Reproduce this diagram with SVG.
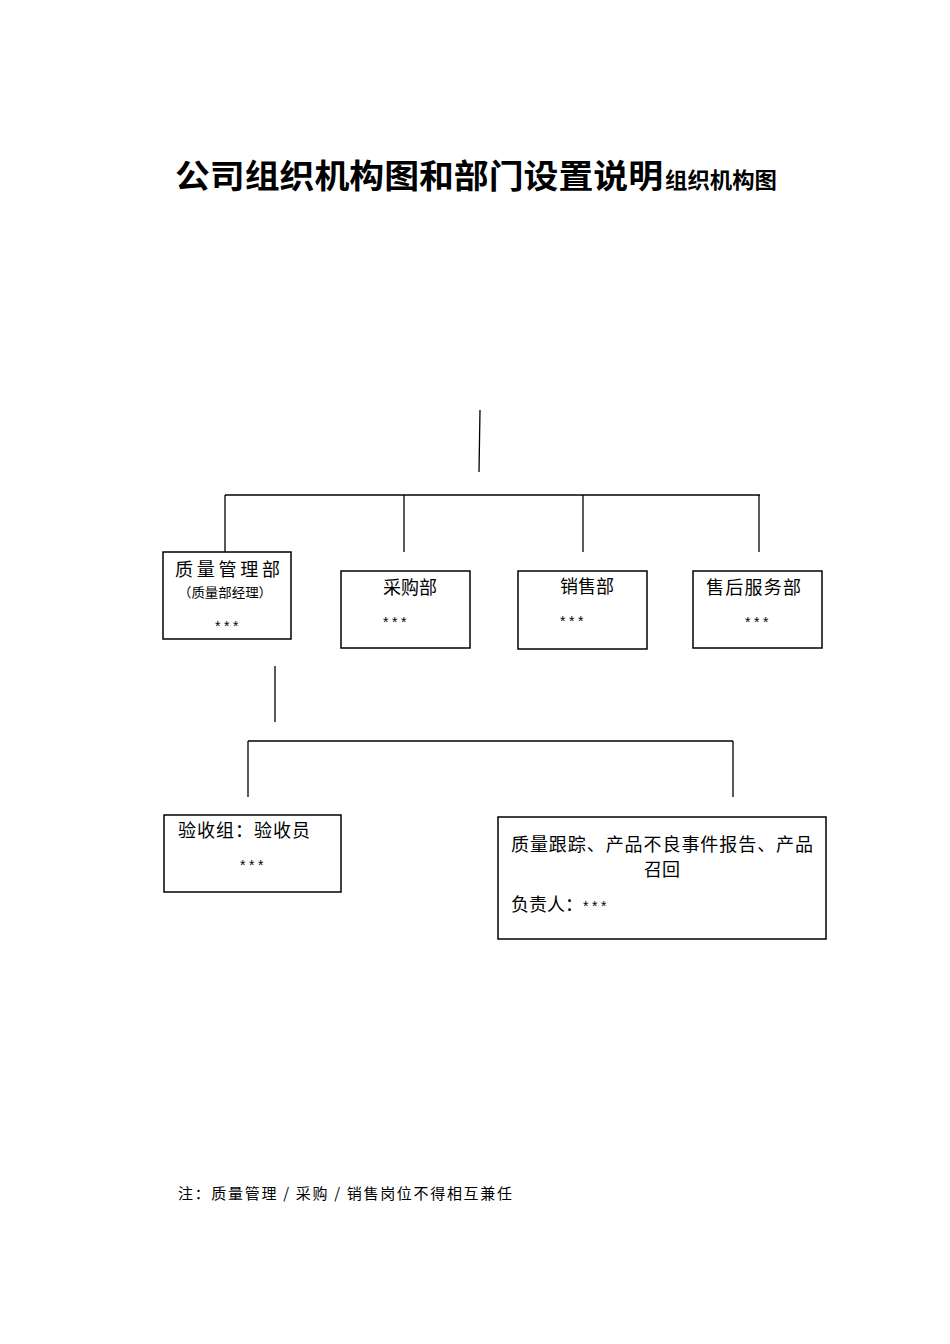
<svg xmlns="http://www.w3.org/2000/svg" width="950" height="1344" viewBox="0 0 950 1344">
<style>
.t{font-family:"Noto Sans CJK SC","Noto Sans CJK JP",sans-serif;fill:#000}
.b{fill:#fff;stroke:#000;stroke-width:1.5}
.c line{stroke:#000;stroke-width:1.3}
.s{font-family:"Liberation Sans",sans-serif;font-size:14px;letter-spacing:3.5px}
</style>
<rect width="950" height="1344" fill="#fff"/>
<text class="t" x="175" y="188" font-size="33" font-weight="bold" textLength="488" lengthAdjust="spacingAndGlyphs">公司组织机构图和部门设置说明</text>
<text class="t" x="665" y="188" font-size="22" font-weight="bold" textLength="112" lengthAdjust="spacingAndGlyphs">组织机构图</text>
<g class="c" id="connectors">
<line x1="480" y1="410" x2="479" y2="472"/>
<line x1="225" y1="495" x2="760" y2="495"/>
<line x1="225" y1="495" x2="225" y2="552"/>
<line x1="404" y1="495" x2="404" y2="552"/>
<line x1="583" y1="495" x2="583" y2="552"/>
<line x1="759" y1="495" x2="759" y2="552"/>
<line x1="275" y1="666" x2="275" y2="722"/>
<line x1="248" y1="741" x2="733" y2="741"/>
<line x1="248" y1="741" x2="248" y2="797"/>
<line x1="733" y1="741" x2="733" y2="797"/>
</g>
<g id="n1">
<rect class="b" x="163" y="552" width="128" height="87"/>
<text class="t" x="175" y="576" font-size="18" textLength="105" lengthAdjust="spacing">质量管理部</text>
<text class="t" x="178" y="597" font-size="13" textLength="94" lengthAdjust="spacingAndGlyphs">（质量部经理）</text>
<text class="s" x="215" y="631">***</text>
</g>
<g id="n2">
<rect class="b" x="341" y="571" width="129" height="77"/>
<text class="t" x="383" y="594" font-size="18">采购部</text>
<text class="s" x="383" y="627">***</text>
</g>
<g id="n3">
<rect class="b" x="518" y="571" width="129" height="78"/>
<text class="t" x="560" y="593" font-size="18">销售部</text>
<text class="s" x="560" y="626">***</text>
</g>
<g id="n4">
<rect class="b" x="693" y="571" width="129" height="77"/>
<text class="t" x="706" y="594" font-size="18" textLength="95" lengthAdjust="spacing">售后服务部</text>
<text class="s" x="745" y="627">***</text>
</g>
<g id="n5">
<rect class="b" x="164" y="815" width="177" height="77"/>
<text class="t" x="178" y="837" font-size="18" textLength="132" lengthAdjust="spacing">验收组：验收员</text>
<text class="s" x="240" y="870">***</text>
</g>
<g id="n6">
<rect class="b" x="498" y="817" width="328" height="122"/>
<text class="t" x="511" y="851" font-size="18" textLength="302" lengthAdjust="spacing">质量跟踪、产品不良事件报告、产品</text>
<text class="t" x="662" y="876" font-size="18" text-anchor="middle">召回</text>
<text class="t" x="511" y="911" font-size="18">负责人：<tspan class="s" font-size="14">***</tspan></text>
</g>
<text class="t" x="178" y="1199" font-size="15" textLength="334" lengthAdjust="spacing">注：质量管理 / 采购 / 销售岗位不得相互兼任</text>
</svg>
